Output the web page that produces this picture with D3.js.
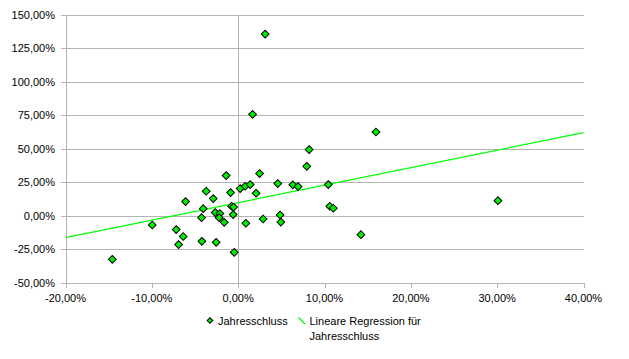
<!DOCTYPE html>
<html><head><meta charset="utf-8">
<script src="https://cdn.jsdelivr.net/npm/d3@7"></script>
<style>
body{margin:0;background:#fff;}
text{font-family:"Liberation Sans",Arial,sans-serif;font-size:11px;fill:#000;}
</style></head>
<body><svg id="c" width="629" height="359"></svg>
<script>
// Data (percent)
const xValues = [-14.58,-9.95,-7.18,-6.90,-6.37,-6.09,-4.24,-4.20,-4.05,-3.70,-2.89,-2.66,-2.55,-2.12,-2.20,-1.62,-1.39,-0.88,-0.76,-0.53,-0.58,-0.46,0.23,0.81,0.89,1.39,1.67,2.08,2.48,2.89,3.13,4.59,4.86,4.94,6.33,6.94,7.95,8.22,10.44,10.61,11.02,14.22,15.96,30.09];
const yValues = [-32.7,-7.1,-10.5,-21.7,-15.7,10.4,-1.6,-19.3,5.1,18.1,12.6,2.2,-20.0,1.4,-1.6,-5.1,29.8,17.1,6.9,6.3,0.7,-27.5,20.1,21.8,-5.8,23.1,75.5,16.6,31.3,-2.6,135.4,23.8,0.4,-4.9,22.9,21.6,36.7,49.2,23.1,6.9,5.4,-14.3,62.3,11.1];
const xTicks = [-20,-10,0,10,20,30,40];
const yTicks = [-50,-25,0,25,50,75,100,125,150];
const seriesName = "Jahresschluss";
const trendName = ["Lineare Regression für","Jahresschluss"];

const svg = d3.select("#c");
const pL = 65.5, pR = 583.5, pT = 14.5, pB = 282.5;
const x = d3.scaleLinear().domain([-20,40]).range([pL,pR]);
const y = d3.scaleLinear().domain([-50,150]).range([pB,pT]);
const loc = d3.formatLocale({decimal:",",thousands:".",grouping:[3],currency:["","€"],minus:"-"});
const fmt = v => loc.format(".2f")(v) + "%";
const grid = "#b3b3b3";

// horizontal gridlines
svg.append("g").selectAll("line").data(yTicks).join("line")
  .attr("x1",pL-5).attr("x2",pR)
  .attr("y1",d=>Math.round(y(d))+0.5).attr("y2",d=>Math.round(y(d))+0.5)
  .attr("stroke",grid).attr("shape-rendering","crispEdges");
// left axis line and zero vertical line
[ -20, 0 ].forEach(v=>{
  svg.append("line").attr("x1",Math.round(x(v))+0.5).attr("x2",Math.round(x(v))+0.5)
    .attr("y1",pT).attr("y2",pB+ (v===-20?5:0)).attr("stroke",grid).attr("shape-rendering","crispEdges");
});
// x ticks
svg.append("g").selectAll("line").data(xTicks).join("line")
  .attr("x1",d=>Math.round(x(d))+0.5).attr("x2",d=>Math.round(x(d))+0.5)
  .attr("y1",pB).attr("y2",pB+5).attr("stroke",grid).attr("shape-rendering","crispEdges");
// y labels
svg.append("g").selectAll("text").data(yTicks).join("text")
  .attr("x",55).attr("y",d=>y(d)+4).attr("text-anchor","end").text(fmt);
// x labels
svg.append("g").selectAll("text").data(xTicks).join("text")
  .attr("x",d=>x(d)).attr("y",302).attr("text-anchor","middle").text(fmt);

// regression line (least squares)
const n = xValues.length;
const mx = d3.mean(xValues), my = d3.mean(yValues);
let sxy=0,sxx=0;
for(let i=0;i<n;i++){sxy+=(xValues[i]-mx)*(yValues[i]-my);sxx+=(xValues[i]-mx)**2;}
const b = sxy/sxx, a = my - b*mx;
svg.append("line").attr("x1",x(-20)).attr("x2",x(40))
  .attr("y1",y(a+b*-20)).attr("y2",y(a+b*40))
  .attr("stroke","#00ff00").attr("stroke-width",1.2);

// points
const diamond = d3.symbol(d3.symbolSquare, 30)();
svg.append("g").selectAll("path").data(xValues.map((v,i)=>[v,yValues[i]])).join("path")
  .attr("d",diamond)
  .attr("transform",d=>`translate(${x(d[0])},${y(d[1])}) rotate(45)`)
  .attr("fill","#00ee00").attr("stroke","#000").attr("stroke-width",1);

// legend
const lg = svg.append("g");
lg.append("path").attr("d",d3.symbol(d3.symbolSquare,16)())
  .attr("transform","translate(210,320.5) rotate(45)")
  .attr("fill","#00ee00").attr("stroke","#000").attr("stroke-width",1);
lg.append("text").attr("x",218).attr("y",324.5).text(seriesName);
lg.append("line").attr("x1",298.5).attr("y1",317.5).attr("x2",305).attr("y2",324)
  .attr("stroke","#00ff00").attr("stroke-width",1.2);
lg.append("text").attr("x",309.5).attr("y",324.5).text(trendName[0]);
lg.append("text").attr("x",309.5).attr("y",339.5).text(trendName[1]);
</script></body></html>
